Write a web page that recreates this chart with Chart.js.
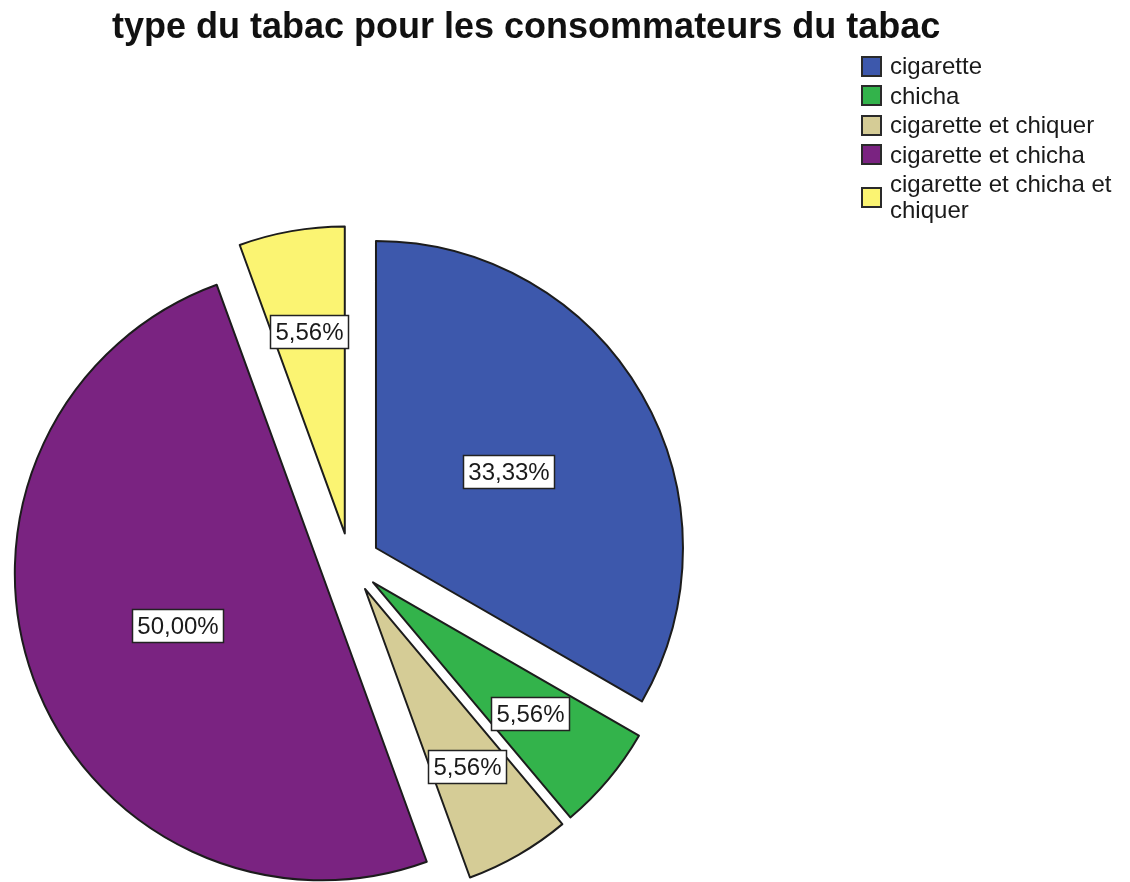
<!DOCTYPE html>
<html lang="fr">
<head>
<meta charset="utf-8">
<title>type du tabac pour les consommateurs du tabac</title>
<script src="https://cdn.jsdelivr.net/npm/chart.js@4/dist/chart.umd.min.js"></script>
<style>
  html, body { margin: 0; padding: 0; background: #ffffff; }
  body { width: 1130px; height: 882px; position: relative; overflow: hidden;
         font-family: "Liberation Sans", Arial, sans-serif; color: #111; }
  #chart { position: absolute; left: 0; top: 0; }
  #title { position: absolute; left: 112px; top: 6px; font-size: 36px; line-height: 40px;
           font-weight: bold; white-space: nowrap; color: #111; }
  #legend { position: absolute; left: 861px; top: 53px; width: 269px; }
  .item { display: flex; align-items: center; margin-bottom: 3.5px; }
  .swatch { width: 17px; height: 17px; border: 2px solid #2a2a2a; flex: 0 0 auto; margin-right: 8px; }
  .text { font-size: 24px; line-height: 26px; color: #1a1a1a; }
</style>
</head>
<body>
<canvas id="chart" width="1130" height="882"></canvas>
<div id="title"></div>
<div id="legend"></div>
<script>
// Tobacco type among tobacco users, in percent
const categories = ['cigarette', 'chicha', 'cigarette et chiquer', 'cigarette et chicha', 'cigarette et chicha et chiquer'];
const percentages = [33.33, 5.56, 5.56, 50.00, 5.56];
const sliceColors = ['#3d58ac', '#33b34b', '#d5cc96', '#7a2381', '#fbf472'];
const chartTitle = 'type du tabac pour les consommateurs du tabac';

const EXPLODE = 30;      // distance each slice is pulled out from the centre
const PIE_RADIUS = 307;

document.getElementById('title').textContent = chartTitle;

// Legend
const legendEl = document.getElementById('legend');
categories.forEach((name, i) => {
  const item = document.createElement('div');
  item.className = 'item';
  const sw = document.createElement('div');
  sw.className = 'swatch';
  sw.style.background = sliceColors[i];
  const tx = document.createElement('div');
  tx.className = 'text';
  tx.textContent = name;
  item.appendChild(sw);
  item.appendChild(tx);
  legendEl.appendChild(item);
});

const fmtPct = v => v.toFixed(2).replace('.', ',') + '%';

// Draws every slice pulled out along its bisector
const explodedSlices = {
  id: 'explodedSlices',
  beforeDatasetDraw(chart, args) {
    const ctx = chart.ctx;
    args.meta.data.forEach(arc => {
      const mid = (arc.startAngle + arc.endAngle) / 2;
      ctx.save();
      ctx.translate(Math.cos(mid) * EXPLODE, Math.sin(mid) * EXPLODE);
      arc.draw(ctx);
      ctx.restore();
    });
    return false;
  }
};

// Boxed percentage labels inside the slices
const boxedLabels = {
  id: 'boxedLabels',
  afterDatasetsDraw(chart) {
    const ctx = chart.ctx;
    const meta = chart.getDatasetMeta(0);
    const data = chart.data.datasets[0].data;
    const total = data.reduce((a, b) => a + b, 0);
    ctx.save();
    ctx.font = '24px "Liberation Sans", Arial, sans-serif';
    ctx.textAlign = 'center';
    ctx.textBaseline = 'middle';
    meta.data.forEach((arc, i) => {
      const p = arc.getProps(['x', 'y', 'startAngle', 'endAngle', 'outerRadius']);
      const mid = (p.startAngle + p.endAngle) / 2;
      const share = data[i] / total;
      const r = EXPLODE + p.outerRadius * (share < 0.1 ? 2 / 3 : 0.5);
      const cx = p.x + Math.cos(mid) * r;
      const cy = p.y + Math.sin(mid) * r;
      const txt = fmtPct(data[i]);
      const w = Math.round(ctx.measureText(txt).width + 10);
      const h = 33;
      const bx = Math.round(cx - w / 2) + 0.5;
      const by = Math.round(cy - h / 2) + 0.5;
      ctx.fillStyle = '#ffffff';
      ctx.fillRect(bx, by, w, h);
      ctx.strokeStyle = '#222222';
      ctx.lineWidth = 1.5;
      ctx.strokeRect(bx, by, w, h);
      ctx.fillStyle = '#1a1a1a';
      ctx.fillText(txt, bx + w / 2, by + h / 2 + 1);
    });
    ctx.restore();
  }
};

new Chart(document.getElementById('chart'), {
  type: 'pie',
  data: {
    labels: categories,
    datasets: [{
      data: percentages,
      backgroundColor: sliceColors,
      borderColor: '#1c1c1c',
      borderWidth: 2,
      borderJoinStyle: 'round',
      offset: 0,
      hoverOffset: 0,
      clip: false
    }]
  },
  options: {
    responsive: false,
    animation: false,
    devicePixelRatio: 1,
    radius: PIE_RADIUS,
    rotation: 0,
    layout: { padding: { left: 0, right: 430, top: 244, bottom: 0 } },
    plugins: {
      legend: { display: false },
      title: { display: false },
      tooltip: { enabled: false }
    },
    events: []
  },
  plugins: [explodedSlices, boxedLabels]
});
</script>
</body>
</html>
